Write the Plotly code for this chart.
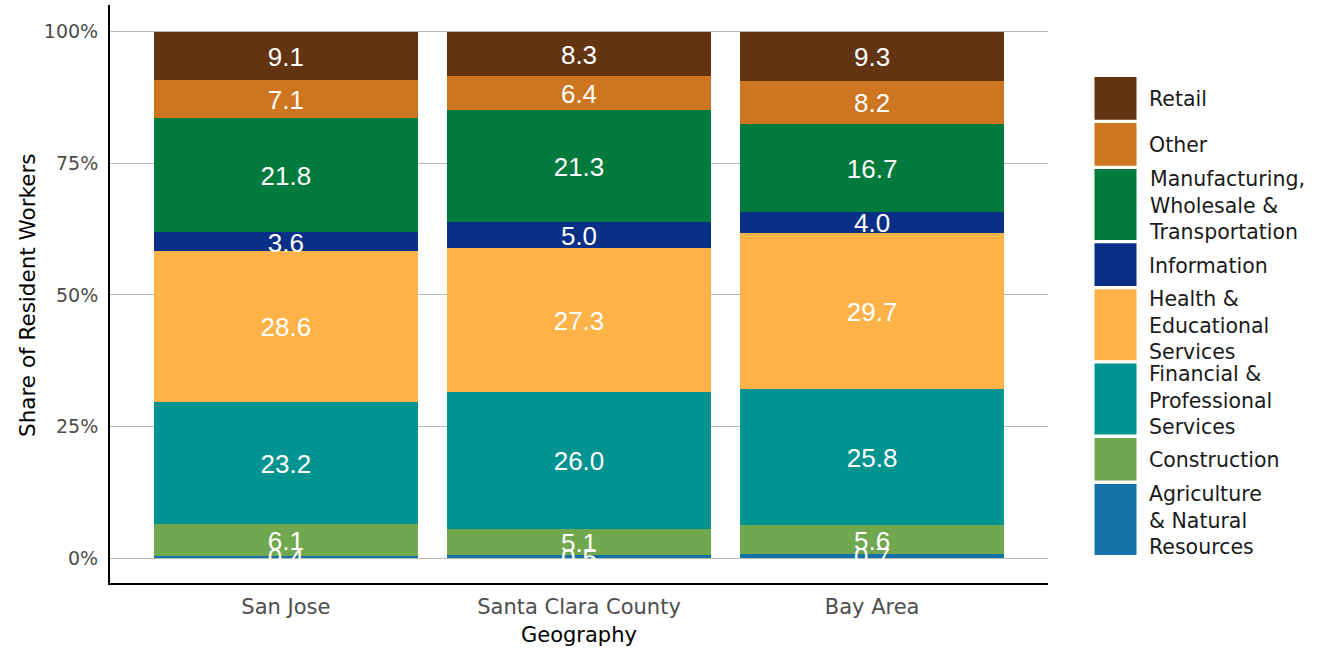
import numpy as np
import plotly.graph_objects as go

geography = ['San Jose', 'Santa Clara County', 'Bay Area']

# bottom -> top stacking order
industries = ['Agriculture & Natural Resources', 'Construction',
              'Financial & Professional Services', 'Health & Educational Services',
              'Information', 'Manufacturing, Wholesale & Transportation',
              'Other', 'Retail']
legend_labels = ['Agriculture<br>& Natural<br>Resources', 'Construction',
                 'Financial &<br>Professional<br>Services', 'Health &<br>Educational<br>Services',
                 'Information', 'Manufacturing,<br>Wholesale &<br>Transportation',
                 'Other', 'Retail']
colors = ['#1572A9', '#71A74F', '#009390', '#FEB247',
          '#0A2F86', '#007A3D', '#CD7520', '#623411']

agriculture = [0.4, 0.5, 0.7]
construction = [6.1, 5.1, 5.6]
financial = [23.2, 26.0, 25.8]
health = [28.6, 27.3, 29.7]
information = [3.6, 5.0, 4.0]
manufacturing = [21.8, 21.3, 16.7]
other = [7.1, 6.4, 8.2]
retail = [9.1, 8.3, 9.3]

series = [agriculture, construction, financial, health,
          information, manufacturing, other, retail]

y_ticks = [0, 25, 50, 75, 100]
y_ticktext = ['0%', '25%', '50%', '75%', '100%']

W, H = 1332, 651
L, R, T, B = 110, 284, 5, 68
pw, ph = W - L - R, H - T - B
y_range = [-4.75, 105.1]
# small downward nudge so the digits sit visually centred in each segment
nudge = 3.5 * (y_range[1] - y_range[0]) / ph


def px(x):
    return (x - L) / pw


def py(y):
    return (H - B - y) / ph


fig = go.Figure()
base = np.zeros(len(geography))
for name, vals, col in zip(industries, series, colors):
    vals = np.array(vals)
    fig.add_trace(go.Bar(x=geography, y=vals, name=name, marker_color=col,
                         marker_line_width=0, width=0.9, showlegend=False))
    fig.add_trace(go.Scatter(x=geography, y=base + vals / 2 - nudge, mode='text',
                             text=[f'{v:.1f}' for v in vals],
                             textfont=dict(family='Liberation Sans', size=26, color='white'),
                             showlegend=False, hoverinfo='skip'))
    base = base + vals

# hand-drawn legend with large keys like the original
shapes = []
annotations = []
y = 77
for lab, col in reversed(list(zip(legend_labels, colors))):
    n = lab.count('<br>') + 1
    h = 42.7 + 14.15 * (n - 1)
    shapes.append(dict(type='rect', xref='paper', yref='paper',
                       x0=px(1094.5), x1=px(1136.5), y0=py(y + h), y1=py(y),
                       fillcolor=col, line_width=0, layer='above'))
    annotations.append(dict(xref='paper', yref='paper', x=px(1147), y=py(y + h / 2 + 1),
                            text=lab, showarrow=False, xanchor='left', yanchor='middle',
                            align='left', font=dict(family='DejaVu Sans', size=20.5, color='#1a1a1a')))
    y += h + 3.3

# axis titles placed as annotations
annotations.append(dict(xref='paper', yref='paper', x=px(579), y=py(635), text='Geography',
                        showarrow=False, xanchor='center', yanchor='middle',
                        font=dict(family='DejaVu Sans', size=21, color='black')))
annotations.append(dict(xref='paper', yref='paper', x=px(27), y=py(295), text='Share of Resident Workers',
                        showarrow=False, xanchor='center', yanchor='middle', textangle=-90,
                        font=dict(family='DejaVu Sans', size=21.5, color='black')))

fig.update_layout(
    width=W, height=H,
    margin=dict(l=L, r=R, t=T, b=B),
    barmode='stack', bargap=0.1,
    plot_bgcolor='white', paper_bgcolor='white',
    font=dict(family='DejaVu Sans', color='#4d4d4d'),
    shapes=shapes, annotations=annotations,
    showlegend=False,
)
fig.update_xaxes(range=[-0.6, 2.6], showline=True, linecolor='black', linewidth=2,
                 showgrid=False, ticks='', ticklabelstandoff=4, automargin=False,
                 tickfont=dict(size=21, color='#4d4d4d'))
fig.update_yaxes(range=y_range, tickvals=y_ticks, ticktext=y_ticktext,
                 showline=True, linecolor='black', linewidth=2,
                 showgrid=True, gridcolor='#b8b8b8', gridwidth=1, zeroline=False,
                 ticks='', ticklabelstandoff=6, automargin=False,
                 tickfont=dict(size=19, color='#4d4d4d'))

fig.write_html('out.html', config={'displayModeBar': False},
               post_script="document.body.style.margin='0px';")
